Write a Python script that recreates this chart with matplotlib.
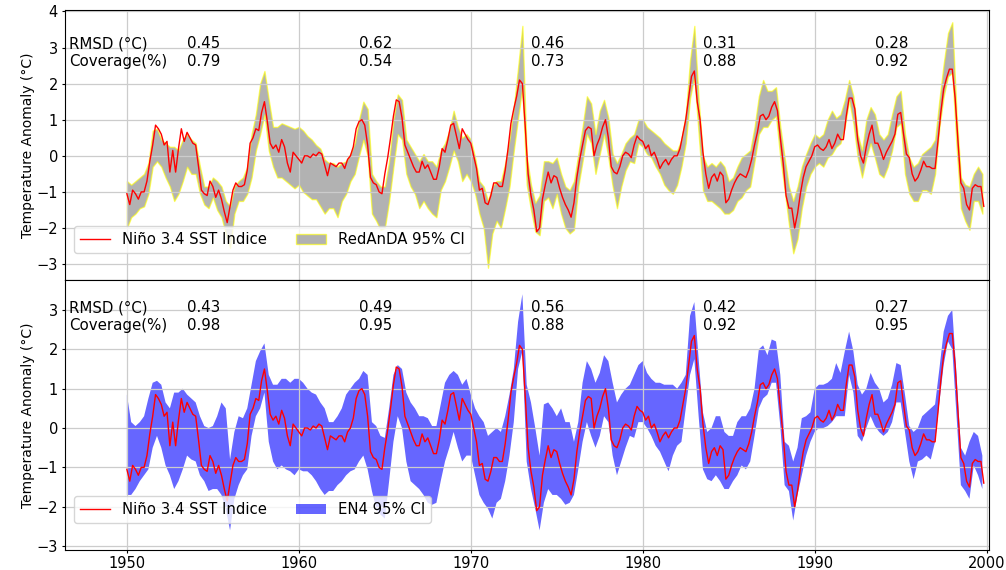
import numpy as np
import matplotlib
matplotlib.use("Agg")
import matplotlib.pyplot as plt
from matplotlib.patches import Patch
from matplotlib.lines import Line2D

plt.rcParams['font.size'] = 10.5

# Nino 3.4 index, read every two months (Jan, Mar, May, Jul, Sep, Nov), 1950-1999
nino34 = [
    -1.05, -1.35, -0.95, -1.05, -1.2, -1.0,
    -1.0, -0.7, -0.15, 0.3, 0.85, 0.75,
    0.6, 0.3, 0.4, -0.45, 0.15, -0.45,
    0.2, 0.75, 0.4, 0.65, 0.5, 0.35,
    0.3, -0.3, -0.95, -1.05, -1.1, -0.7,
    -0.85, -1.15, -0.95, -1.2, -1.55, -1.85,
    -1.4, -0.95, -0.75, -0.85, -0.85, -0.8,
    -0.4, 0.35, 0.5, 0.75, 0.7, 1.2,
    1.5, 0.95, 0.35, 0.2, 0.3, 0.1,
    0.45, 0.25, -0.2, -0.45, 0.1, 0.0,
    -0.1, -0.2, 0.0, 0.0, -0.05, 0.05,
    0.0, 0.1, 0.05, -0.25, -0.55, -0.2,
    -0.25, -0.3, -0.2, -0.2, -0.35, -0.1,
    0.0, 0.25, 0.75, 0.95, 1.0, 0.85,
    0.3, -0.6, -0.75, -0.8, -1.0, -1.05,
    -0.5, -0.05, 0.5, 1.1, 1.55, 1.5,
    1.05, 0.3, 0.1, -0.1, -0.3, -0.45,
    -0.45, -0.15, -0.35, -0.25, -0.45, -0.65,
    -0.65, -0.3, 0.2, 0.1, 0.45, 0.85,
    0.9, 0.55, 0.2, 0.75, 0.6, 0.45,
    0.35, 0.0, -0.35, -0.95, -0.9, -1.3,
    -1.35, -1.1, -0.75, -0.75, -0.85, -0.85,
    -0.4, 0.2, 0.9, 1.3, 1.65, 2.1,
    2.0, 0.8, -0.5, -1.1, -1.5, -2.1,
    -2.0, -1.2, -0.8, -0.45, -0.75, -0.55,
    -0.6, -0.9, -1.15, -1.35, -1.5, -1.7,
    -1.3, -0.6, -0.1, 0.3, 0.7, 0.8,
    0.75, 0.0, 0.3, 0.5, 0.8, 1.0,
    0.5, -0.3, -0.45, -0.5, -0.3, 0.0,
    0.1, 0.05, -0.05, 0.3, 0.55, 0.45,
    0.4, 0.2, 0.3, 0.0, 0.1, -0.1,
    -0.35, -0.2, -0.1, -0.25, -0.1, 0.0,
    0.0, 0.2, 0.6, 1.0, 1.6, 2.2,
    2.35, 1.5, 1.0, 0.1, -0.5, -0.9,
    -0.6, -0.5, -0.7, -0.45, -0.55, -1.3,
    -1.2, -0.95, -0.75, -0.6, -0.5, -0.55,
    -0.6, -0.4, -0.1, 0.3, 0.65, 1.1,
    1.15, 1.0, 1.1, 1.35, 1.5, 1.25,
    0.5, -0.2, -1.1, -1.45, -1.45, -2.0,
    -1.6, -1.05, -0.6, -0.3, -0.15, 0.0,
    0.25, 0.3, 0.2, 0.15, 0.25, 0.45,
    0.2, 0.35, 0.6, 0.45, 0.45, 1.1,
    1.6, 1.6, 1.3, 0.45, 0.0, -0.2,
    0.25, 0.6, 0.85, 0.35, 0.35, 0.15,
    -0.1, 0.1, 0.25, 0.4, 0.6, 1.15,
    1.2, 0.6, 0.05, -0.05, -0.5, -0.7,
    -0.6, -0.4, -0.15, -0.3, -0.3, -0.35,
    -0.35, 0.4, 1.2, 1.85, 2.15, 2.4,
    2.4, 1.6, 0.4, -0.75, -0.9, -1.35,
    -1.5, -0.9, -0.8, -0.85, -0.85, -1.4,
]

# RedAnDA 95% CI, quarterly
redanda_upper = [
    -0.7, -0.8, -0.7, -0.6,   -0.5, -0.2, 0.7, 0.75,    0.45, 0.35, 0.25, 0.25,
    0.15, 0.45, 0.6, 0.45,    0.35, -0.3, -0.85, -0.85, -0.6, -0.7, -0.85, -1.25,
    -1.4, -0.85, -0.7, -0.6,  -0.3, 0.6, 1.15, 2.0,     2.35, 1.55, 0.8, 0.8,
    0.9, 0.85, 0.8, 0.75,     0.8, 0.7, 0.55, 0.45,     0.3, 0.2, -0.1, -0.2,
    -0.2, -0.3, -0.2, -0.15,  0.05, 0.35, 1.0, 1.5,     1.3, -0.5, -0.7, -0.85,
    -0.85, -0.15, 1.0, 1.7,   1.55, 0.45, 0.25, 0.05,   -0.15, 0.05, -0.15, -0.15,
    -0.3, 0.15, 0.35, 0.7,    1.25, 0.8, 0.5, 0.6,      0.45, -0.05, -0.7, -0.85,
    -1.25, -0.85, -0.7, -0.7, -0.2, 0.45, 1.35, 2.45,   3.6, 0.0, -0.8, -1.3,
    -1.1, -0.15, -0.15, -0.2, -0.05, -0.5, -0.85, -0.95, -0.7, 0.05, 0.8, 1.65,
    1.45, 0.6, 1.25, 1.55,    1.05, 0.05, -0.2, 0.05,   0.35, 0.5, 0.6, 1.0,
    1.0, 0.8, 0.7, 0.6,       0.5, 0.35, 0.25, 0.15,    0.15, 0.45, 1.15, 2.65,
    3.6, 1.55, 0.0, -0.3,     -0.2, -0.3, -0.15, -0.3,  -0.7, -0.6, -0.3, -0.05,
    0.05, 0.15, 0.8, 1.65,    2.1, 1.8, 1.8, 1.9,       0.8, -0.05, -0.85, -1.25,
    -0.85, -0.3, 0.05, 0.35,  0.6, 0.5, 0.6, 1.0,       1.25, 1.05, 1.15, 1.55,
    2.1, 1.65, 0.6, 0.15,     1.0, 1.35, 1.15, 0.6,     0.45, 0.6, 1.15, 1.65,
    1.8, 0.6, -0.05, -0.3,    -0.2, 0.05, 0.15, 0.25,   0.45, 1.55, 2.55, 3.4,
    3.7, 1.15, -0.6, -0.8,    -0.85, -0.5, -0.3, -0.5,
]
redanda_lower = [
    -2.0, -1.7, -1.6, -1.45,  -1.4, -1.05, -0.3, -0.15, -0.3, -0.6, -0.85, -1.25,
    -1.05, -0.7, -0.3, -0.5,  -0.5, -1.05, -1.35, -1.45, -1.15, -1.5, -1.7, -2.15,
    -2.55, -1.6, -1.25, -1.25, -1.05, -0.6, 0.15, 0.6,  1.15, 0.15, -0.3, -0.6,
    -0.6, -0.7, -0.8, -0.9,   -0.8, -1.0, -1.1, -1.2,   -1.2, -1.4, -1.6, -1.45,
    -1.45, -1.7, -1.25, -1.05, -0.7, -0.5, 0.0, 0.45,   0.0, -1.6, -1.8, -2.05,
    -2.0, -1.25, -0.3, 0.6,   0.45, -0.5, -0.85, -1.05, -1.45, -1.25, -1.45, -1.6,
    -1.7, -0.95, -0.7, -0.3,  0.15, -0.15, -0.7, -0.5,  -0.7, -1.05, -1.6, -2.0,
    -3.1, -2.15, -1.8, -2.0,  -1.45, -0.85, 0.15, 1.05, 1.9, -0.8, -1.5, -2.1,
    -2.2, -1.25, -1.15, -1.45, -1.05, -1.6, -2.0, -2.15, -2.05, -0.85, -0.15, 0.6,
    0.35, -0.5, 0.05, 0.6,    -0.05, -0.85, -1.45, -0.85, -0.4, -0.15, -0.2, 0.35,
    0.25, 0.05, -0.05, -0.3,  -0.5, -0.8, -0.95, -1.05, -0.8, -0.3, 0.35, 1.6,
    2.2, 0.6, -0.95, -1.25,   -1.25, -1.35, -1.45, -1.6, -1.6, -1.5, -1.25, -1.15,
    -0.95, -0.85, -0.15, 0.6, 0.8, 0.8, 1.0, 1.1,       -0.05, -0.95, -1.9, -2.7,
    -2.3, -1.45, -0.85, -0.5, -0.3, -0.2, -0.3, -0.05,  0.05, 0.25, 0.35, 0.8,
    1.55, 0.9, -0.05, -0.6,   -0.05, 0.35, -0.05, -0.5, -0.6, -0.3, 0.15, 0.8,
    0.9, -0.5, -1.05, -1.25,  -1.25, -0.95, -0.95, -1.05, -0.5, 0.8, 1.65, 2.2,
    2.3, 0.25, -1.45, -1.8,   -2.05, -1.25, -1.25, -1.6,
]

# EN4 95% CI, quarterly
en4_upper = [
    0.85, 0.15, 0.05, 0.15,   0.3, 0.75, 1.15, 1.2,     1.1, 0.65, 0.5, 0.9,
    0.9, 1.0, 0.85, 0.75,     0.65, 0.3, 0.05, 0.0,     0.05, 0.3, 0.65, 0.5,
    -0.8, -0.1, 0.3, 0.25,    0.5, 1.1, 1.7, 1.95,      2.15, 1.35, 1.1, 1.1,
    1.25, 1.25, 1.15, 1.25,   1.25, 1.15, 1.0, 0.9,     0.85, 0.65, 0.5, 0.15,
    0.15, 0.3, 0.5, 0.85,     1.0, 1.15, 1.25, 1.45,    1.35, 0.15, 0.05, -0.2,
    -0.25, 0.5, 1.35, 1.6,    1.5, 0.9, 0.65, 0.5,      0.3, 0.3, 0.25, 0.05,
    0.05, 0.6, 1.15, 1.35,    1.45, 1.35, 1.1, 1.25,    0.85, 0.5, 0.3, 0.15,
    -0.2, -0.1, 0.0, -0.1,    0.3, 0.85, 1.5, 2.7,      3.4, 1.1, 0.65, 0.0,
    -0.7, 0.6, 0.65, 0.5,     0.3, 0.5, 0.15, 0.15,     -0.35, 0.15, 1.15, 1.7,
    1.5, 1.15, 1.4, 1.85,     1.7, 1.15, 0.65, 0.85,    1.0, 1.1, 1.35, 1.6,
    1.7, 1.4, 1.25, 1.15,     1.15, 1.1, 1.1, 1.1,      1.0, 1.15, 1.35, 2.85,
    3.2, 1.75, 0.4, -0.1,     0.0, 0.3, 0.3, -0.1,      -0.2, -0.2, 0.15, 0.3,
    0.3, 0.5, 1.0, 2.0,       2.1, 1.85, 2.25, 2.2,     1.35, -0.35, -0.45, -0.85,
    -0.5, 0.25, 0.3, 0.4,     1.0, 1.1, 1.1, 1.15,      1.25, 1.65, 1.4, 1.95,
    2.45, 1.95, 1.1, 0.85,    1.0, 1.4, 1.15, 1.0,      0.65, 0.75, 1.1, 1.65,
    1.6, 0.85, 0.05, -0.1,    0.0, 0.3, 0.4, 0.5,       0.6, 1.5, 2.45, 2.85,
    3.0, 1.35, -0.5, -0.7,    -0.35, -0.1, -0.2, -0.7,
]
en4_lower = [
    -1.7, -1.7, -1.55, -1.35, -1.2, -1.05, -0.5, -0.2,  -0.5, -0.95, -1.2, -1.55,
    -1.35, -1.05, -0.7, -0.8, -0.85, -1.2, -1.35, -1.6, -1.55, -1.55, -1.7, -2.05,
    -2.6, -1.8, -1.45, -1.2,  -1.05, -0.2, 0.3, 0.5,    0.9, -0.35, -0.85, -1.05,
    -0.95, -1.05, -1.1, -1.2, -1.05, -1.1, -1.1, -1.2,  -1.35, -1.55, -1.7, -1.6,
    -1.6, -1.45, -1.35, -1.2, -1.1, -1.05, -0.85, -0.7, -1.05, -1.6, -2.05, -2.2,
    -2.3, -1.35, -0.35, 0.3,  0.0, -0.85, -1.35, -1.45, -1.55, -1.7, -1.9, -1.95,
    -1.9, -1.35, -0.85, -0.5, -0.1, -0.5, -0.85, -0.7,  -0.7, -1.2, -1.7, -1.9,
    -2.05, -2.3, -1.9, -1.8,  -1.35, -0.7, 0.15, 1.5,   1.95, -0.85, -1.55, -2.05,
    -2.6, -1.9, -1.55, -1.7,  -1.7, -1.8, -1.95, -1.9,  -1.7, -1.05, -0.35, 0.15,
    -0.2, -0.5, -0.2, 0.3,    0.15, -0.7, -1.2, -0.85,  -0.5, -0.2, -0.25, 0.15,
    0.15, 0.0, -0.2, -0.45,   -0.6, -0.85, -1.1, -0.7,  -0.45, -0.35, 0.5, 1.35,
    1.75, 0.3, -1.05, -1.3,   -1.35, -1.2, -1.35, -1.55, -1.55, -1.35, -1.2, -0.95,
    -1.05, -0.85, -0.2, 0.5,  0.75, 0.85, 1.15, 1.15,   0.05, -1.45, -1.6, -2.35,
    -1.7, -1.2, -0.7, -0.35,  -0.1, 0.0, 0.0, 0.05,     0.15, 0.3, 0.3, 0.3,
    1.35, 0.9, -0.2, -0.35,   0.0, 0.3, 0.05, -0.1,     -0.2, -0.1, 0.15, 0.65,
    0.65, -0.1, -0.85, -1.3,  -0.85, -0.8, -0.7, -0.8,  -0.35, 0.65, 1.6, 2.2,
    2.0, 0.3, -1.45, -1.6,    -1.8, -0.95, -1.2, -1.55,
]

# scores written on the panels, one per decade
decades = [1950, 1960, 1970, 1980, 1990]
redanda_rmsd = [0.45, 0.62, 0.46, 0.31, 0.28]
redanda_cov = [0.79, 0.54, 0.73, 0.88, 0.92]
en4_rmsd = [0.43, 0.49, 0.56, 0.42, 0.27]
en4_cov = [0.98, 0.95, 0.88, 0.92, 0.95]

years = 1950 + np.arange(len(nino34)) / 6.0
qyears = 1950 + np.arange(len(redanda_upper)) / 4.0

fig, (ax1, ax2) = plt.subplots(2, 1, sharex=True, figsize=(10.06, 5.7), dpi=100)
fig.subplots_adjust(left=0.0646, right=0.983, top=0.9825, bottom=0.035, hspace=0)

# top panel: RedAnDA
ax1.fill_between(qyears, redanda_lower, redanda_upper, facecolor='gray',
                 edgecolor='yellow', alpha=0.6, lw=1)
ax1.plot(years, nino34, color='red', lw=1)
ax1.set_ylim(-3.44, 4.04)
h1 = [Line2D([], [], color='red', lw=1),
      Patch(facecolor='gray', edgecolor='yellow', alpha=0.6)]
ax1.legend(h1, ['Niño 3.4 SST Indice', 'RedAnDA 95% CI'], ncol=2,
           loc=(0.01, 0.1), fontsize=10.7)

# bottom panel: EN4
ax2.fill_between(qyears, en4_lower, en4_upper, facecolor='blue', alpha=0.6, lw=0)
ax2.plot(years, nino34, color='red', lw=1)
ax2.set_ylim(-3.10, 3.76)
h2 = [Line2D([], [], color='red', lw=1),
      Patch(facecolor='blue', alpha=0.6)]
ax2.legend(h2, ['Niño 3.4 SST Indice', 'EN4 95% CI'], ncol=2,
           loc=(0.01, 0.1), fontsize=10.7)

for ax, rmsd, cov in [(ax1, redanda_rmsd, redanda_cov),
                      (ax2, en4_rmsd, en4_cov)]:
    ax.text(1946.65, 2.5, 'RMSD (°C)\nCoverage(%)', fontsize=10.8)
    for d, r, c in zip(decades, rmsd, cov):
        ax.text(d + 3.5, 2.5, f'{r:.2f}\n{c:.2f}', fontsize=10.8)
    ax.set_ylabel('Temperature Anomaly (°C)', fontsize=10, labelpad=1)
    ax.grid(True, color='#cccccc', lw=0.9)
    ax.tick_params(length=2.5, pad=2.5)

ax2.set_xlim(1946.4, 2000.13)
ax2.set_xticks([1950, 1960, 1970, 1980, 1990, 2000])
ax2.tick_params(axis='x', pad=1.5)

fig.savefig('out.png', dpi=100)
